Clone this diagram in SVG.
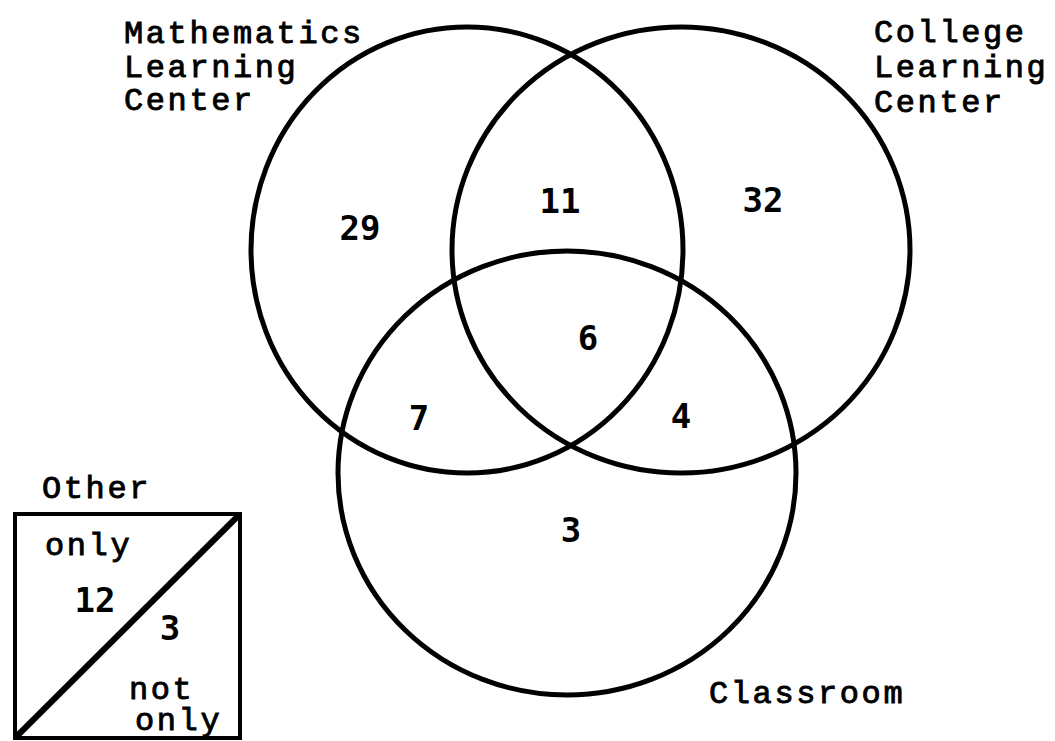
<svg xmlns="http://www.w3.org/2000/svg" width="1055" height="741" viewBox="0 0 1055 741">
<style>
.c{fill:none;stroke:#000;stroke-width:5}
.lbl{font-family:"Liberation Mono","Courier New",monospace;font-size:32px;letter-spacing:2.6px;fill:#000;stroke:#000;stroke-width:0.9}
.num{font-family:"DejaVu Sans Mono",monospace;font-weight:bold;font-size:34px;fill:#000;text-anchor:middle}
</style>
<rect width="1055" height="741" fill="#fff"/>
<g id="math-circle">
<ellipse class="c" cx="467" cy="250" rx="216" ry="223"/>
<text class="lbl" x="124" y="43">Mathematics</text>
<text class="lbl" x="124" y="77">Learning</text>
<text class="lbl" x="124" y="110">Center</text>
</g>
<g id="college-circle">
<ellipse class="c" cx="681" cy="250" rx="229" ry="223"/>
<text class="lbl" x="874" y="42">College</text>
<text class="lbl" x="874" y="77">Learning</text>
<text class="lbl" x="874" y="112">Center</text>
</g>
<g id="classroom-circle">
<ellipse class="c" cx="567" cy="473" rx="229" ry="222"/>
<text class="lbl" x="709" y="703">Classroom</text>
</g>
<g id="counts">
<text class="num" x="360" y="240">29</text>
<text class="num" x="560" y="213">11</text>
<text class="num" x="763" y="212">32</text>
<text class="num" x="588" y="350">6</text>
<text class="num" x="419" y="430">7</text>
<text class="num" x="681" y="428">4</text>
<text class="num" x="571" y="542">3</text>
</g>
<g id="other-box">
<text class="lbl" x="42" y="498">Other</text>
<rect x="15" y="514" width="225" height="224" fill="none" stroke="#000" stroke-width="4"/>
<line x1="15" y1="738" x2="240" y2="514" stroke="#000" stroke-width="6"/>
<text class="lbl" x="45" y="555">only</text>
<text class="num" x="95" y="612">12</text>
<text class="num" x="170" y="640">3</text>
<text class="lbl" x="129" y="699">not</text>
<text class="lbl" x="135" y="730">only</text>
</g>
</svg>
